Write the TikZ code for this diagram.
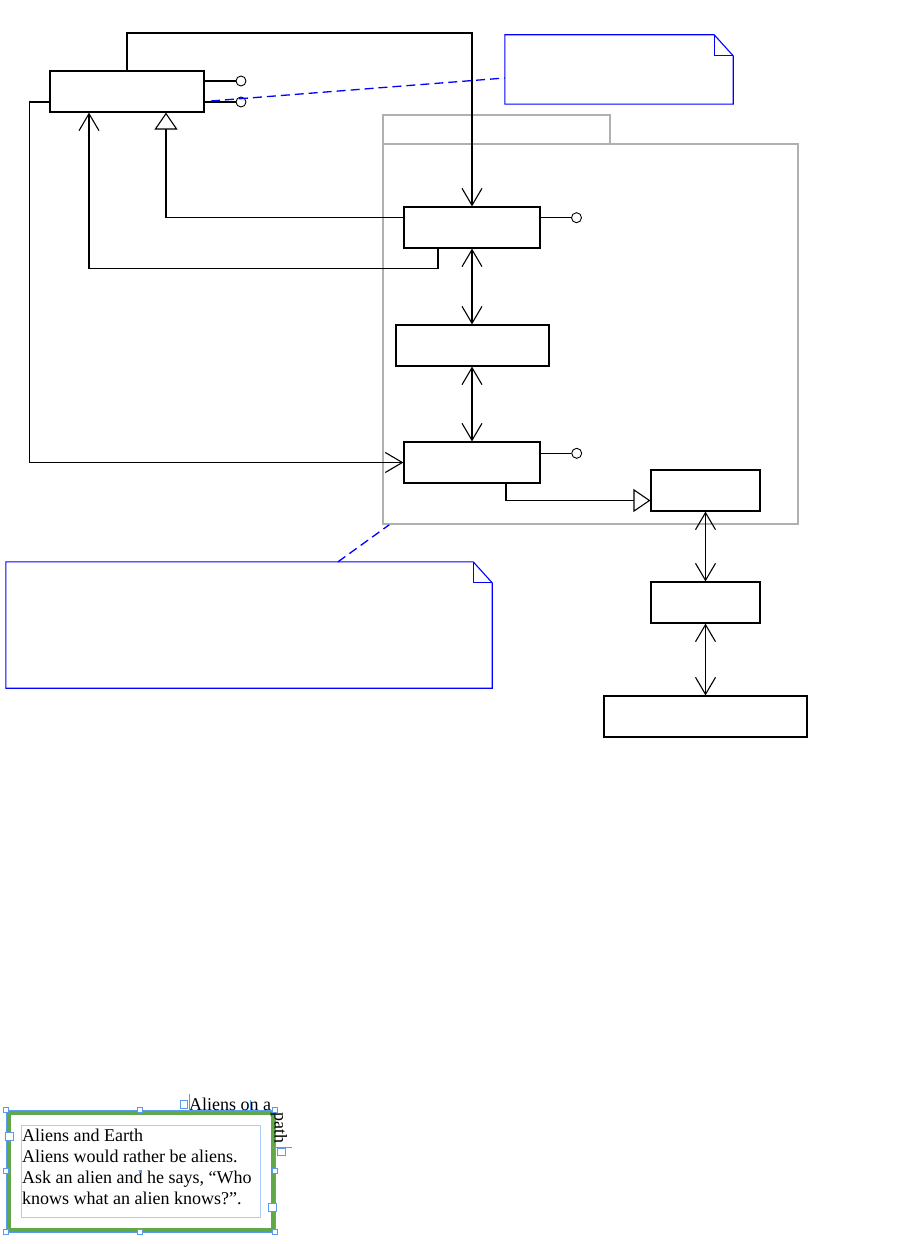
\documentclass[tikz,border=0pt]{standalone}
\usepackage{fontspec}
\setmainfont{Liberation Serif}
\usetikzlibrary{arrows.meta}
\definecolor{noteblue}{RGB}{0,0,255}
\definecolor{pkggray}{RGB}{176,176,176}
\definecolor{framegreen}{RGB}{96,168,72}
\definecolor{selblue}{RGB}{90,155,240}
\definecolor{textframe}{RGB}{170,205,250}
\begin{document}
\begin{tikzpicture}[x=1pt,y=-1pt,
  cls/.style={draw, line width=1.2pt, inner sep=0pt, minimum height=41pt},
  lolli/.style={circle, draw, line width=0.9pt, fill=white, inner sep=0pt, minimum size=10pt},
  conn/.style={line width=1.1pt},
  assoc/.style={conn, -{Straight Barb[length=17pt,width=20pt]}},
  bassoc/.style={conn, {Straight Barb[length=17pt,width=20pt]}-{Straight Barb[length=17pt,width=20pt]}},
  realize/.style={conn, -{Triangle[length=17pt,width=23pt,fill=white]}},
  notebox/.style={inner sep=0pt},
  noteline/.style={draw=noteblue, line width=1.1pt},
  notelink/.style={draw=noteblue, line width=1.3pt, dash pattern=on 9pt off 5pt},
  pkgbox/.style={draw=pkggray, line width=1.6pt, inner sep=0pt},
  handle/.style={draw=selblue, fill=white, line width=0.6pt, inner sep=0pt, minimum size=5pt},
  bighandle/.style={handle, minimum size=8pt},
  pathhandle/.style={handle, minimum size=7.5pt},
  selline/.style={draw=selblue, line width=0.6pt},
  body/.style={font=\fontsize{18}{21}\selectfont, inner sep=0pt},
]
\useasboundingbox (0,0) rectangle (907,1244);

% package
\node[pkgbox, minimum width=227pt, minimum height=29pt] (tab) at (496.5,129.5) {};
\node[pkgbox, minimum width=415pt, minimum height=380pt] (pkg) at (590.5,334) {};

% classes
\node[cls, minimum width=154pt] (A) at (127,91.5) {};
\node[cls, minimum width=136pt] (B) at (472,227.5) {};
\node[cls, minimum width=153pt] (C) at (472.5,345.5) {};
\node[cls, minimum width=136pt] (D) at (472,462.5) {};
\node[cls, minimum width=109pt] (E) at (705.5,490.5) {};
\node[cls, minimum width=109pt] (F) at (705.5,602.5) {};
\node[cls, minimum width=203pt] (G) at (705.5,716.5) {};

% notes
\node[notebox, minimum width=228pt, minimum height=69pt] (N1) at (619,69.5) {};
\draw[noteline] (N1.north west) -- ([xshift=-19pt]N1.north east) -- ([yshift=-21pt]N1.north east) -- (N1.south east) -- (N1.south west) -- cycle;
\draw[noteline, line width=0.8pt] ([xshift=-19pt]N1.north east) |- ([yshift=-21pt]N1.north east);
\node[notebox, minimum width=486pt, minimum height=126pt] (N2) at (249,625) {};
\draw[noteline] (N2.north west) -- ([xshift=-19pt]N2.north east) -- ([yshift=-21pt]N2.north east) -- (N2.south east) -- (N2.south west) -- cycle;
\draw[noteline, line width=0.8pt] ([xshift=-19pt]N2.north east) |- ([yshift=-21pt]N2.north east);

% lollipops
\node[lolli] (L1) at (241,81) {};
\node[lolli] (L2) at (241,102) {};
\node[lolli] (L3) at (576.5,217.7) {};
\node[lolli] (L4) at (576.7,453.3) {};
\draw[conn] (A.east |- L1) -- (L1);
\draw[conn] (A.east |- L2) -- (L2);
\draw[conn] (B.east |- L3) -- (L3);
\draw[conn] (D.east |- L4) -- (L4);

% note links
\coordinate (d1) at (211,101);
\draw[notelink] (d1) -- ([yshift=-8.5pt]N1.west);
\draw[notelink] ([xshift=89pt]N2.north) -- ([xshift=7pt]pkg.south west);

% connectors
\coordinate (t1) at (127,33);
\draw[assoc] (A.north) -- (t1) -| (B.north);
\draw[realize] ([yshift=10pt]B.west) -| ([xshift=39pt]A.south);
\draw[assoc] ([xshift=-34pt]B.south) -- ++(0,20) -| ([xshift=-38pt]A.south);
\draw[assoc] ([yshift=-10.5pt]A.west) -- ++(-20,0) |- (D.west);
\draw[bassoc] (B.south) -- (B.south |- C.north);
\draw[bassoc] (B.south |- C.south) -- (D.north);
\draw[realize] ([xshift=34pt]D.south) |- ([yshift=-10pt]E.west);
\draw[bassoc] (E.south) -- (F.north);
\draw[bassoc] (F.south) -- (G.north);

% text frame (bottom left)
\node[draw=framegreen, line width=4pt, inner sep=0pt, minimum width=264pt, minimum height=117pt] (frame) at (140.5,1171) {};
\node[draw=selblue, line width=0.8pt, inner sep=0pt, minimum width=269pt, minimum height=122pt] (sel) at (140.5,1171) {};
\node[draw=textframe, line width=0.8pt, inner sep=0pt, minimum width=238.6pt, minimum height=92.4pt] (tf) at (141,1171.5) {};
\node[body, anchor=north west, align=left] (txt) at (22,1128.7) {Aliens and Earth\\Aliens would rather be aliens.\\Ask an alien and he says, “Who\\knows what an alien knows?”.};

% text on path
\node[body, anchor=base west] (tp1) at (189,1110) {Aliens on a};
\node[body, anchor=base west, rotate=-90] (tp2) at (274.5,1112) {path};
\draw[selline] (189,1094) -- (189,1114);
\draw[selline] (250,1100) -- (250,1112);
\draw[selline] (272,1147) -- (292,1147);
\node[pathhandle] (ph1) at (184,1104.3) {};
\node[pathhandle] (ph2) at (281.5,1152) {};

% handles
\node[handle] (h1) at (6,1110) {};
\node[handle] (h2) at (140,1110) {};
\node[handle] (h3) at (275,1110) {};
\node[handle] (h4) at (6,1171) {};
\node[handle] (h5) at (275,1171) {};
\node[handle] (h6) at (6,1232) {};
\node[handle] (h7) at (140,1232) {};
\node[handle] (h8) at (275,1232) {};
\node[bighandle] (bh1) at (9.7,1136) {};
\node[bighandle] (bh2) at (272.5,1207.3) {};
\node[fill=selblue, inner sep=0pt, minimum size=3pt] (dot) at (140,1171) {};
\end{tikzpicture}
\end{document}
